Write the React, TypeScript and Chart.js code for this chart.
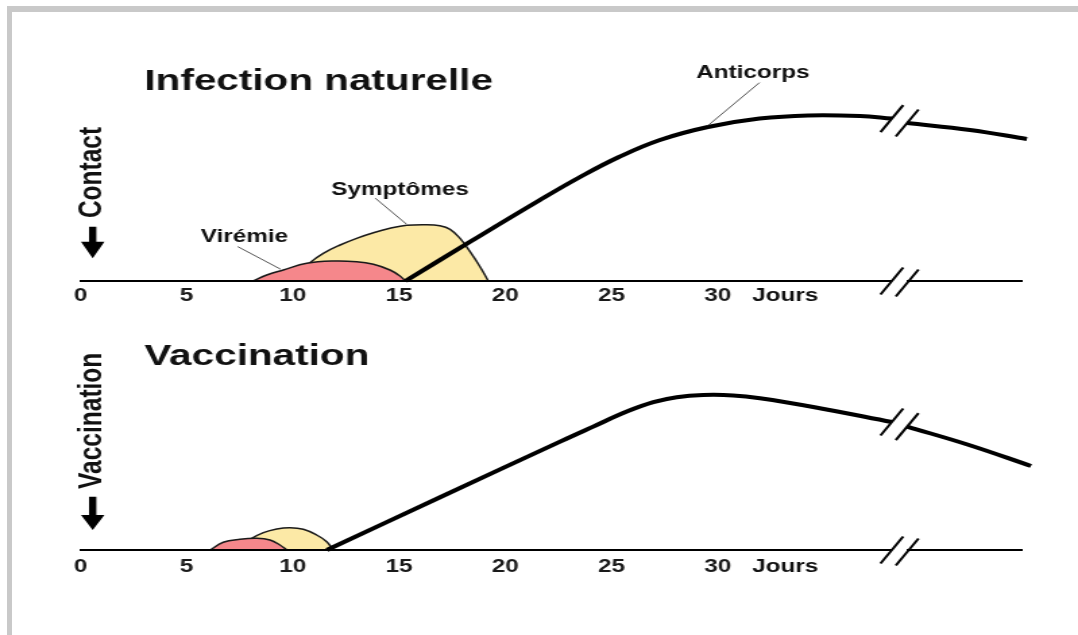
import React, { useEffect, useRef } from 'react';
import { Chart, registerables } from 'chart.js';

Chart.register(...registerables);

// ---------- shared axis data ----------
const DAY_TICKS = [0, 5, 10, 15, 20, 25, 30];
const DAY_TICK_LABELS = ['0', '5', '10', '15', '20', '25', '30'];
const UNIT_LABEL = 'Jours';
const X_MAX = 44.3;
const Y_MAX = 100;

// ---------- Infection naturelle ----------
const NAT_TITLE = 'Infection naturelle';
const NAT_SIDE_LABEL = 'Contact';
const natAntibodyDays = [15.3, 18.34, 21.63, 23.52, 25.35, 27.28, 29.54, 31.97, 34.25, 36.7, 38.2, 38.55, 38.92, 41.88, 44.56];
const natAntibodyLevels = [0, 19.6, 40.5, 52, 62, 70.5, 77, 81.2, 82.8, 82.5, 81.2, null, 79, 75.5, 71];
const natViremiaDays = [8.14, 8.77, 9.55, 10.65, 11.9, 13.0, 13.79, 14.57, 15.04, 15.3];
const natViremiaLevels = [0, 3, 5.5, 8.85, 10, 9.65, 8.35, 5.5, 2.5, 0];
const natSymptomDays = [9.9, 10.8, 11.43, 12.22, 13.0, 13.79, 14.57, 15.36, 16.3, 16.92, 17.4, 17.87, 18.34, 18.81, 19.2];
const natSymptomLevels = [0, 9.15, 13.85, 18, 21.35, 24.15, 26.35, 27.85, 28.15, 27.6, 25.85, 21.35, 14.65, 7.15, 0];
const natNotes = ['Anticorps', 'Symptômes', 'Virémie'];
const natNoteDays = [31.66, 15.04, 7.72];
const natNoteLevels = [101.5, 43, 19.7];
const natLeaderFromDays = [31.97, 13.88, 7.4];
const natLeaderFromLevels = [99.2, 41.4, 17.2];
const natLeaderToDays = [29.55, 15.34, 9.42];
const natLeaderToLevels = [77.8, 28.5, 5.9];

// ---------- Vaccination ----------
const VAC_TITLE = 'Vaccination';
const VAC_SIDE_LABEL = 'Vaccination';
const vacAntibodyDays = [11.6, 16.93, 22.58, 24.14, 25.72, 26.97, 28.07, 29.32, 30.73, 31.99, 34.56, 38.2, 38.55, 38.92, 41.83, 44.75];
const vacAntibodyLevels = [0, 26.4, 54.2, 61.7, 69.2, 73.9, 76.4, 77.5, 77.3, 75.9, 71.4, 64, null, 61.7, 52.5, 42];
const vacViremiaDays = [6.1, 6.72, 7.51, 8.3, 8.92, 9.39, 9.71];
const vacViremiaLevels = [0, 3.85, 5.35, 5.85, 5, 2.5, 0];
const vacSymptomDays = [7.2, 7.98, 8.61, 9.24, 9.86, 10.49, 11.12, 11.59, 11.9];
const vacSymptomLevels = [0, 5.35, 8.65, 10.5, 11.15, 10.35, 7.5, 4.15, 0];

// ---------- styles ----------
const FONT = '"Liberation Sans", Arial, Helvetica, sans-serif';
const CANVAS_W = 799;
const PAGE_W = 1078;
const RED = '#F5878B';
const YELLOW = '#FCE9A6';
const INK = '#111111';

type Panel = {
  height: number;
  padTop: number;
  padBottom: number;
  tickPad: number;
  title: string;
  titleX: number;
  titleY: number;
  side: string;
  sideX: number;
  sideY: number;
  arrowX: number;
  arrowTop: number;
  arrowHead: number;
  arrowTip: number;
  antibodyDays: number[];
  antibodyLevels: (number | null)[];
  viremiaDays: number[];
  viremiaLevels: number[];
  symptomDays: number[];
  symptomLevels: number[];
  notes: string[];
  noteDays: number[];
  noteLevels: number[];
  fromDays: number[];
  fromLevels: number[];
  toDays: number[];
  toLevels: number[];
};

const toPoints = (xs: number[], ys: (number | null)[]) => xs.map((x, i) => ({ x, y: ys[i] }));

function makeDiagramPlugin(p: Panel) {
  return {
    id: 'diagram',
    afterDraw(chart: any) {
      const ctx: CanvasRenderingContext2D = chart.ctx;
      const xs = chart.scales.x;
      const ys = chart.scales.y;
      ctx.save();

      // title
      ctx.fillStyle = INK;
      ctx.font = `bold 30px ${FONT}`;
      ctx.textAlign = 'left';
      ctx.textBaseline = 'alphabetic';
      ctx.fillText(p.title, p.titleX, p.titleY);

      // rotated side label
      ctx.save();
      ctx.translate(p.sideX, p.sideY);
      ctx.rotate(-Math.PI / 2);
      ctx.font = `bold 24.5px ${FONT}`;
      ctx.textAlign = 'center';
      ctx.fillText(p.side, 0, 0);
      ctx.restore();

      // down arrow
      const sw = 2.7, hw = 8.7;
      ctx.beginPath();
      ctx.moveTo(p.arrowX - sw, p.arrowTop);
      ctx.lineTo(p.arrowX + sw, p.arrowTop);
      ctx.lineTo(p.arrowX + sw, p.arrowHead);
      ctx.lineTo(p.arrowX + hw, p.arrowHead);
      ctx.lineTo(p.arrowX, p.arrowTip);
      ctx.lineTo(p.arrowX - hw, p.arrowHead);
      ctx.lineTo(p.arrowX - sw, p.arrowHead);
      ctx.closePath();
      ctx.fillStyle = '#000';
      ctx.fill();

      // notes and leader lines
      ctx.font = `bold 18px ${FONT}`;
      ctx.textAlign = 'center';
      ctx.fillStyle = INK;
      p.notes.forEach((t, i) => {
        ctx.fillText(t, xs.getPixelForValue(p.noteDays[i]), ys.getPixelForValue(p.noteLevels[i]));
        ctx.beginPath();
        ctx.moveTo(xs.getPixelForValue(p.fromDays[i]), ys.getPixelForValue(p.fromLevels[i]));
        ctx.lineTo(xs.getPixelForValue(p.toDays[i]), ys.getPixelForValue(p.toLevels[i]));
        ctx.strokeStyle = '#555';
        ctx.lineWidth = 1;
        ctx.stroke();
      });

      // "Jours" unit label next to the last tick
      ctx.font = `bold 18px ${FONT}`;
      ctx.textAlign = 'left';
      ctx.textBaseline = 'middle';
      ctx.fillText(UNIT_LABEL, xs.getPixelForValue(30) + 25.5, xs.top + p.tickPad + 10.8);

      // break marks (//) on curve and axis
      const meta = chart.getDatasetMeta(0);
      const k = p.antibodyLevels.findIndex((v) => v === null);
      if (k > 0) {
        const pl = meta.data[k - 1];
        const pr = meta.data[k + 1];
        const y0 = ys.getPixelForValue(0);
        ctx.clearRect(pl.x, y0 - 3, pr.x - pl.x, 6);
        const slash = (cx: number, cy: number) => {
          ctx.beginPath();
          ctx.moveTo(cx - 8.4, cy + 13.5);
          ctx.lineTo(cx + 8.4, cy - 13.5);
          ctx.strokeStyle = '#000';
          ctx.lineWidth = 2;
          ctx.stroke();
        };
        slash(pl.x, pl.y);
        slash(pr.x, pr.y);
        slash(pl.x, y0);
        slash(pr.x, y0 + 2);
      }
      ctx.restore();
    },
  };
}

function buildChart(canvas: HTMLCanvasElement, p: Panel) {
  const common = { pointRadius: 0, tension: 0.4, clip: false as const };
  return new Chart(canvas, {
    type: 'line',
    data: {
      datasets: [
        {
          ...common,
          label: 'Anticorps',
          data: toPoints(p.antibodyDays, p.antibodyLevels),
          borderColor: '#000',
          borderWidth: 4,
          fill: false,
          spanGaps: false,
        },
        {
          ...common,
          label: 'Virémie',
          data: toPoints(p.viremiaDays, p.viremiaLevels),
          borderColor: '#1a1a1a',
          borderWidth: 1.5,
          backgroundColor: RED,
          fill: 'origin',
        },
        {
          ...common,
          label: 'Symptômes',
          data: toPoints(p.symptomDays, p.symptomLevels),
          borderColor: '#1a1a1a',
          borderWidth: 1.5,
          backgroundColor: YELLOW,
          fill: 'origin',
        },
      ] as any,
    },
    options: {
      responsive: false,
      animation: false,
      devicePixelRatio: 1,
      events: [],
      layout: {
        padding: { left: 80.5 * CANVAS_W / PAGE_W, right: CANVAS_W - 1021.4 * CANVAS_W / PAGE_W, top: p.padTop, bottom: p.padBottom },
      },
      scales: {
        x: {
          type: 'linear',
          min: 0,
          max: X_MAX,
          afterBuildTicks: (s: any) => {
            s.ticks = DAY_TICKS.map((v) => ({ value: v }));
          },
          afterFit: (s: any) => {
            s.height = 30;
          },
          grid: { display: false, drawTicks: false },
          border: { display: true, color: '#000', width: 2, z: 1 },
          ticks: {
            padding: p.tickPad,
            autoSkip: false,
            maxRotation: 0,
            color: '#1a1a1a',
            font: { family: FONT, size: 18, weight: 'bold', lineHeight: 1.2 },
            callback: (_v: any, i: number) => DAY_TICK_LABELS[i],
          },
        },
        y: { type: 'linear', min: 0, max: Y_MAX, display: false },
      },
      plugins: { legend: { display: false }, tooltip: { enabled: false } },
    } as any,
    plugins: [makeDiagramPlugin(p)],
  });
}

const S = CANVAS_W / PAGE_W;

const TOP_PANEL: Panel = {
  height: 320,
  padTop: 81,
  padBottom: 9,
  tickPad: 4,
  title: NAT_TITLE,
  titleX: 107,
  titleY: 90,
  side: NAT_SIDE_LABEL,
  sideX: 101.7 * S,
  sideY: 172.5,
  arrowX: 92.7 * S,
  arrowTop: 226.7,
  arrowHead: 241.7,
  arrowTip: 258.3,
  antibodyDays: natAntibodyDays,
  antibodyLevels: natAntibodyLevels,
  viremiaDays: natViremiaDays,
  viremiaLevels: natViremiaLevels,
  symptomDays: natSymptomDays,
  symptomLevels: natSymptomLevels,
  notes: natNotes,
  noteDays: natNoteDays,
  noteLevels: natNoteLevels,
  fromDays: natLeaderFromDays,
  fromLevels: natLeaderFromLevels,
  toDays: natLeaderToDays,
  toLevels: natLeaderToLevels,
};

const BOTTOM_PANEL: Panel = {
  height: 315,
  padTop: 30,
  padBottom: 55,
  tickPad: 6,
  title: VAC_TITLE,
  titleX: 107,
  titleY: 45,
  side: VAC_SIDE_LABEL,
  sideX: 101.7 * S,
  sideY: 100.8,
  arrowX: 92.7 * S,
  arrowTop: 176.7,
  arrowHead: 195,
  arrowTip: 210,
  antibodyDays: vacAntibodyDays,
  antibodyLevels: vacAntibodyLevels,
  viremiaDays: vacViremiaDays,
  viremiaLevels: vacViremiaLevels,
  symptomDays: vacSymptomDays,
  symptomLevels: vacSymptomLevels,
  notes: [],
  noteDays: [],
  noteLevels: [],
  fromDays: [],
  fromLevels: [],
  toDays: [],
  toLevels: [],
};

export default function App() {
  const topRef = useRef<HTMLCanvasElement>(null);
  const botRef = useRef<HTMLCanvasElement>(null);

  useEffect(() => {
    const c1 = buildChart(topRef.current!, TOP_PANEL);
    const c2 = buildChart(botRef.current!, BOTTOM_PANEL);
    return () => {
      c1.destroy();
      c2.destroy();
    };
  }, []);

  return (
    <div style={{ position: 'absolute', left: 0, top: 0, width: PAGE_W, height: 635, overflow: 'hidden', background: '#fff' }}>
      <div
        style={{
          position: 'absolute',
          left: 7,
          top: 6,
          right: 0,
          bottom: 0,
          borderTop: '6px solid #c9c9c9',
          borderLeft: '5px solid #c9c9c9',
        }}
      />
      <canvas
        ref={topRef}
        width={CANVAS_W}
        height={320}
        style={{ position: 'absolute', left: 0, top: 0, width: PAGE_W + 'px', height: '320px' }}
      />
      <canvas
        ref={botRef}
        width={CANVAS_W}
        height={315}
        style={{ position: 'absolute', left: 0, top: 320, width: PAGE_W + 'px', height: '315px' }}
      />
    </div>
  );
}
